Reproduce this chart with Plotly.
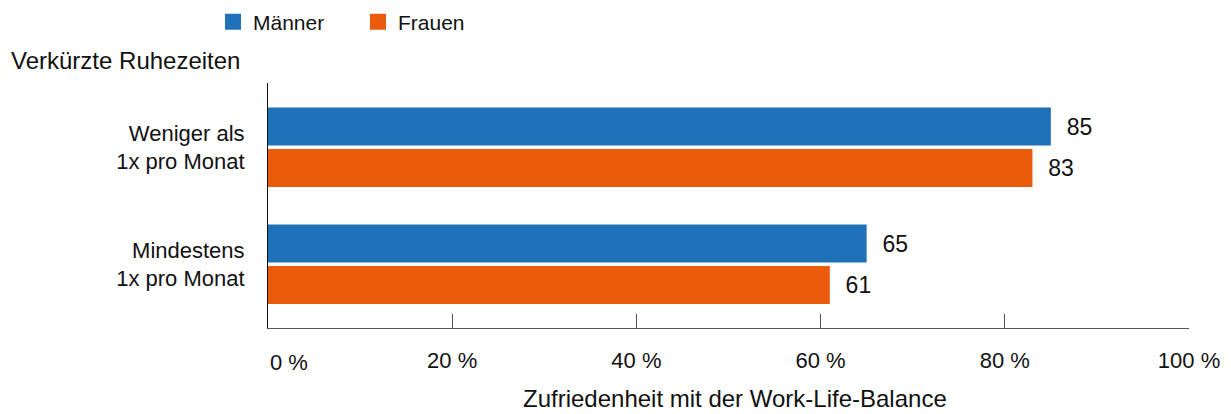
import plotly.graph_objects as go

categories = ["Weniger als<br>1x pro Monat", "Mindestens<br>1x pro Monat"]
series_names = ["Männer", "Frauen"]
maenner = [85, 65]
frauen = [83, 61]
tick_values = [0, 20, 40, 60, 80, 100]
tick_labels = ["0 %", "20 %", "40 %", "60 %", "80 %", "100 %"]
group_title = "Verkürzte Ruhezeiten"
x_title = "Zufriedenheit mit der Work-Life-Balance"

BLUE = "#1F71B8"
ORANGE = "#EA5B0C"
FONT = "Liberation Sans, Arial, sans-serif"

# page has an 8px body margin; figure is sized so it fits the 1231x414 window
W, H = 1223, 406
L, T, R, B = 260, 75, 42, 86
PW = W - L - R
PH = H - T - B

fig = go.Figure()
for name, vals, col in [(series_names[0], maenner, BLUE), (series_names[1], frauen, ORANGE)]:
    fig.add_trace(go.Bar(
        y=categories, x=vals, orientation="h", name=name,
        marker=dict(color=col, line=dict(width=0)),
        texttemplate="\u00a0\u00a0%{x}", textposition="outside",
        textfont=dict(size=23, color="#111", family=FONT),
        constraintext="none", cliponaxis=False, showlegend=False,
        hoverinfo="skip",
    ))
    fig.add_trace(go.Scatter(
        x=[None], y=[None], mode="markers", name=name,
        marker=dict(symbol="square", size=16, color=col),
        showlegend=True, hoverinfo="skip",
    ))

ticktext = [("" if v == 0 else t) for v, t in zip(tick_values, tick_labels)]

fig.update_layout(
    width=W, height=H,
    margin=dict(l=L, r=R, t=T, b=B, autoexpand=False),
    paper_bgcolor="white", plot_bgcolor="white",
    font=dict(family=FONT, size=21, color="#111"),
    barmode="group", bargap=0.291, bargroupgap=0.084,
    xaxis=dict(
        range=[0, 100], tickvals=tick_values, ticktext=ticktext,
        ticks="inside", ticklen=14, tickcolor="#555", tickwidth=1,
        showline=True, linecolor="#555", linewidth=1,
        showgrid=False, zeroline=False,
        tickfont=dict(size=22, family=FONT, color="#111"),
        ticklabelstandoff=13,
    ),
    yaxis=dict(
        type="category", range=[1.545, -0.55],
        showline=True, linecolor="#111", linewidth=1,
        ticks="", showgrid=False, zeroline=False,
        tickfont=dict(size=22, family=FONT, color="#111"),
        ticklabelstandoff=18,
    ),
    legend=dict(
        orientation="h", xref="container", yref="container",
        x=205 / W, y=1 - 14 / H, xanchor="left", yanchor="middle",
        font=dict(size=21, family=FONT, color="#111"),
        entrywidth=100, entrywidthmode="pixels",
        bgcolor="rgba(0,0,0,0)", borderwidth=0,
    ),
    annotations=[
        dict(text=tick_labels[0], x=tick_values[0], xref="x", y=0, yref="paper",
             xanchor="left", yanchor="middle", yshift=-34, showarrow=False,
             font=dict(size=22, family=FONT, color="#111")),
        dict(text=group_title, x=(1 - L) / PW, xref="paper", y=1 + (T - 52) / PH,
             yref="paper", xanchor="left", yanchor="middle", showarrow=False,
             font=dict(size=24, family=FONT, color="#111")),
        dict(text=x_title, x=(727 - L) / PW, xref="paper", y=0, yref="paper",
             yshift=-70, xanchor="center", yanchor="middle", showarrow=False,
             font=dict(size=24, family=FONT, color="#111")),
    ],
)

fig.write_html("out.html")
